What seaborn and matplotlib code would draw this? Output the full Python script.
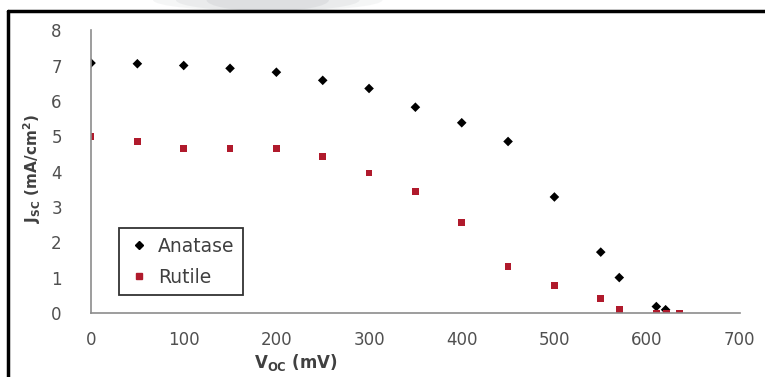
import numpy as np
import pandas as pd
import matplotlib
matplotlib.use("Agg")
import matplotlib.pyplot as plt
import matplotlib.lines as mlines
from matplotlib.patches import Ellipse
import seaborn as sns

# data
voc_anatase = [0, 50, 100, 150, 200, 250, 300, 350, 400, 450, 500, 550, 570, 610, 620]
jsc_anatase = [7.07, 7.05, 7.0, 6.92, 6.81, 6.58, 6.35, 5.82, 5.38, 4.85, 3.28, 1.72, 1.0, 0.18, 0.09]

voc_rutile = [0, 50, 100, 150, 200, 250, 300, 350, 400, 450, 500, 550, 570, 610, 621, 635]
jsc_rutile = [4.99, 4.84, 4.65, 4.65, 4.65, 4.42, 3.96, 3.43, 2.56, 1.31, 0.78, 0.40, 0.09, 0.0, 0.0, 0.0]

df = pd.concat([
    pd.DataFrame({"Voc": voc_anatase, "Jsc": jsc_anatase, "Phase": "Anatase"}),
    pd.DataFrame({"Voc": voc_rutile, "Jsc": jsc_rutile, "Phase": "Rutile"}),
])

sns.set_style("white")
plt.rcParams["font.family"] = ["DejaVu Sans"]

fig = plt.figure(figsize=(7.65, 3.77), dpi=100)
ax = fig.add_axes([0.119, 0.170, 0.848, 0.750])

colors = {"Anatase": "black", "Rutile": "#b01a2c"}
markers = {"Anatase": "D", "Rutile": "s"}
sns.scatterplot(data=df, x="Voc", y="Jsc", hue="Phase", style="Phase",
                palette=colors, markers=markers, s=24, linewidth=0, ax=ax, legend=False)

ax.set_xlim(0, 700)
ax.set_ylim(0, 8)
ax.set_xticks(np.arange(0, 701, 100))
ax.set_yticks(np.arange(0, 9, 1))

for side in ["top", "right"]:
    ax.spines[side].set_visible(False)
for side in ["left", "bottom"]:
    ax.spines[side].set_color("#8c8c8c")
    ax.spines[side].set_linewidth(1.2)

ax.tick_params(axis="both", which="both", direction="out", width=1,
               color="#8c8c8c", labelsize=12, labelcolor="#505050")
ax.tick_params(axis="y", length=8, pad=13)
ax.tick_params(axis="x", length=4, pad=9)

ax.set_xlabel(r"V$_{\mathregular{OC}}$ (mV)", fontsize=12, fontweight="bold", color="#404040")
ax.xaxis.set_label_coords(0.316, -0.138)
ax.set_ylabel(r"J$_{\mathregular{SC}}$ (mA/cm$^{\mathregular{2}}$)", fontsize=11, fontweight="bold",
              color="#404040")
ax.yaxis.set_label_coords(-0.074, 0.51)

handles = [
    mlines.Line2D([], [], color="black", marker="D", linestyle="none", markersize=4, label="Anatase"),
    mlines.Line2D([], [], color="#b01a2c", marker="s", linestyle="none", markersize=4.5, label="Rutile"),
]
leg = ax.legend(handles=handles, loc="upper left", bbox_to_anchor=(0.043, 0.300),
                frameon=True, fancybox=False, fontsize=13.5, handletextpad=0.45,
                labelspacing=0.65, borderpad=0.45, handlelength=1.2, borderaxespad=0)
leg.get_frame().set_edgecolor("black")
leg.get_frame().set_linewidth(1.3)
for t in leg.get_texts():
    t.set_color("#404040")

# faint grey smudge above the frame, as in the screenshot
for w, a in [(0.30, 0.08), (0.24, 0.10), (0.16, 0.12)]:
    fig.add_artist(Ellipse((0.35, 1.0), w, 0.06, transform=fig.transFigure,
                           color="#8a9098", alpha=a, lw=0))

# outer frame (left and top edges, like the cropped screenshot)
fig.add_artist(mlines.Line2D([8 / 765, 8 / 765], [0, 1 - 11 / 377], color="black", lw=2.5,
                             transform=fig.transFigure))
fig.add_artist(mlines.Line2D([8 / 765, 1], [1 - 11 / 377, 1 - 11 / 377], color="black", lw=2.5,
                             transform=fig.transFigure))

fig.savefig("out.png", dpi=100)
